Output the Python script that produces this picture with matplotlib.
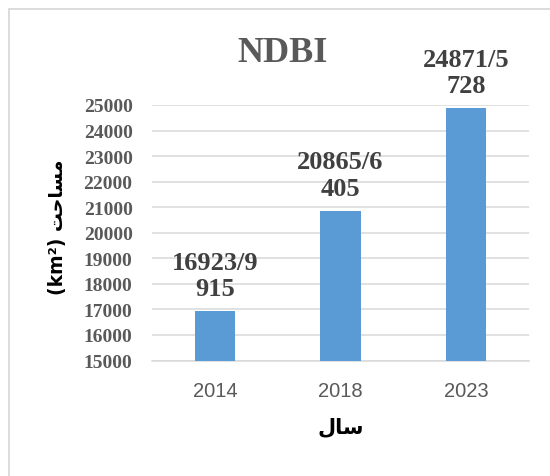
import matplotlib
matplotlib.use("Agg")
import matplotlib.pyplot as plt
from matplotlib.patches import Rectangle

# data (area in km2, decimal separator shown as '/')
years = ["2014", "2018", "2023"]
areas = [16923.9915, 20865.6405, 24871.5728]
value_labels = ["16923/9\n915", "20865/6\n405", "24871/5\n728"]

# arabic text in presentation forms, visual (left to right) order
x_title = "\uFEDD\uFE8E\uFEB3"                      # سال
y_title = "(km\u00b2) \uFE96\uFEA3\uFE8E\uFEB4\uFEE3"  # (km²) مساحت

fig = plt.figure(figsize=(5.5, 4.77), dpi=100)
ax = fig.add_axes([0.2764, 0.2421, 0.9618 - 0.2764, 0.7778 - 0.2421])

pos = range(len(years))
bars = ax.bar(pos, areas, width=0.32, color="#5b9bd5", zorder=3)

ax.set_ylim(15000, 25000)
ax.set_xlim(-0.5, 2.5)
ax.set_yticks(range(15000, 25001, 1000))
ax.set_xticks(list(pos))
ax.set_xticklabels(years, family="Liberation Sans", fontsize=14.5, color="#595959")
for t in ax.get_yticklabels():
    t.set_family("Liberation Serif")
    t.set_fontweight("bold")
    t.set_fontsize(14)
    t.set_color("#595959")

ax.tick_params(axis="both", length=0)
ax.tick_params(axis="x", pad=15)
ax.tick_params(axis="y", pad=14)
ax.grid(axis="y", color="#d9d9d9", lw=1.1, zorder=0)
for s in ["top", "right", "left"]:
    ax.spines[s].set_visible(False)
ax.spines["bottom"].set_color("#d9d9d9")
ax.spines["bottom"].set_linewidth(1.1)

# value labels above bars
for i, (v, lab) in enumerate(zip(areas, value_labels)):
    ax.annotate(lab, xy=(i, v), xytext=(0, 8), textcoords="offset points",
                ha="center", va="bottom", family="Liberation Serif",
                fontweight="bold", fontsize=19, color="#404040")

fig.text(283 / 550, 1 - 53 / 477, "NDBI", ha="center", va="center",
         family="Liberation Serif", fontweight="bold", fontsize=26, color="#595959")

fig.text(340.5 / 550, 1 - 427 / 477, x_title, ha="center", va="center",
         family="DejaVu Sans", fontweight="bold", fontsize=15, color="black")
fig.text(57.5 / 550, 1 - 227 / 477, y_title, ha="center", va="center", rotation=90,
         family="DejaVu Sans", fontweight="bold", fontsize=13.5, color="black")

# outer chart frame (only top/left visible in the crop)
fig.add_artist(Rectangle((8.5 / 550, -0.2), 1.0, 1.2 - 10 / 477,
                         transform=fig.transFigure, fill=False,
                         edgecolor="#d9d9d9", lw=1.3))

fig.savefig("out.png", dpi=100)
